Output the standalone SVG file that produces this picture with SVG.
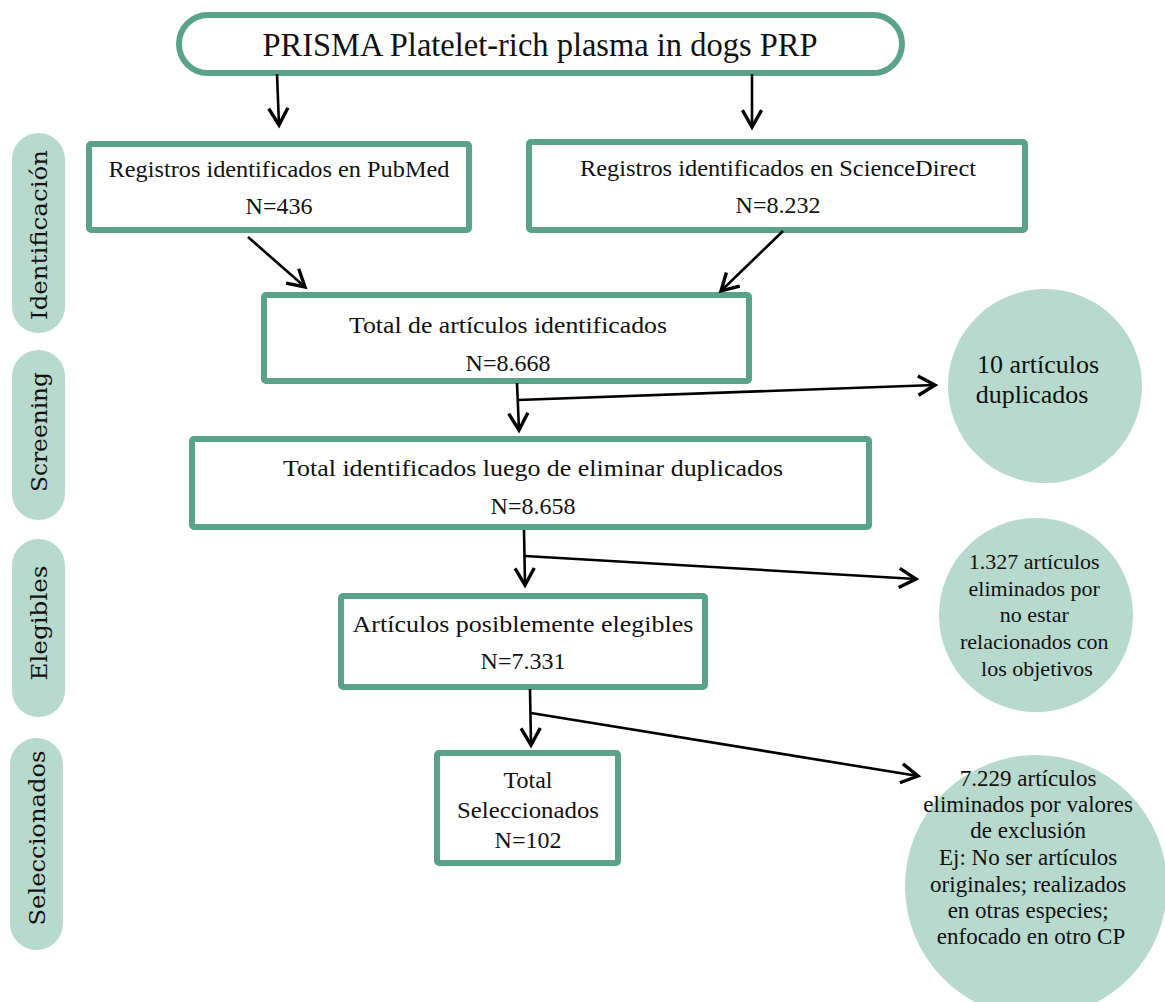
<svg xmlns="http://www.w3.org/2000/svg" width="1165" height="1002" viewBox="0 0 1165 1002">
  <style>
    .box { fill: #ffffff; stroke: #5aa28c; stroke-width: 6; }
    .pill { fill: #b8d9cd; }
    .bubble { fill: #b8d9cd; }
    .txt { font-family: "Liberation Serif", "Times New Roman", serif; fill: #111111; text-anchor: middle; }
    .num { font-size: 24px; }
    .side { font-family: "DejaVu Serif", "Liberation Serif", serif; fill: #111111; text-anchor: middle; font-size: 23px; }
    .link { stroke: #000000; stroke-width: 2.6; fill: none; }
  </style>
  <defs>
    <marker id="chev" markerUnits="userSpaceOnUse" markerWidth="24" markerHeight="24" viewBox="-16 -10 20 20" refX="0" refY="0" orient="auto">
      <path d="M -14 -8 L 0 0 L -14 8" fill="none" stroke="#000000" stroke-width="2.8" stroke-linejoin="miter"/>
    </marker>
  </defs>

  <rect width="1165" height="1002" fill="#ffffff"/>

  <!-- phase labels -->
  <g id="phase-identificacion">
    <rect class="pill" x="12" y="133" width="53" height="200" rx="26.5"/>
    <text class="side" transform="translate(47,235) rotate(-90)" textLength="170" lengthAdjust="spacingAndGlyphs">Identificación</text>
  </g>
  <g id="phase-screening">
    <rect class="pill" x="12" y="350" width="53" height="170" rx="26.5"/>
    <text class="side" transform="translate(47,432) rotate(-90)" textLength="120" lengthAdjust="spacingAndGlyphs">Screening</text>
  </g>
  <g id="phase-elegibles">
    <rect class="pill" x="12" y="539" width="53" height="178" rx="26.5"/>
    <text class="side" transform="translate(47,623) rotate(-90)" textLength="115" lengthAdjust="spacingAndGlyphs">Elegibles</text>
  </g>
  <g id="phase-seleccionados">
    <rect class="pill" x="10" y="738" width="53" height="212" rx="26.5"/>
    <text class="side" transform="translate(45,838) rotate(-90)" textLength="175" lengthAdjust="spacingAndGlyphs">Seleccionados</text>
  </g>

  <!-- title -->
  <g id="title">
    <rect class="box" x="179" y="15" width="723" height="58" rx="29" stroke-width="5"/>
    <text class="txt" x="540" y="56" font-size="33" textLength="555" lengthAdjust="spacingAndGlyphs">PRISMA Platelet-rich plasma in dogs PRP</text>
  </g>

  <!-- identification sources -->
  <g id="pubmed">
    <rect class="box" x="89" y="144" width="380" height="86" rx="2"/>
    <text class="txt" x="279" y="177" font-size="23" textLength="341" lengthAdjust="spacingAndGlyphs">Registros identificados en PubMed</text>
    <text class="txt num" x="279" y="214">N=436</text>
  </g>
  <g id="sciencedirect">
    <rect class="box" x="529" y="142" width="496" height="88" rx="2"/>
    <text class="txt" x="778" y="176" font-size="23" textLength="396" lengthAdjust="spacingAndGlyphs">Registros identificados en ScienceDirect</text>
    <text class="txt num" x="778" y="213">N=8.232</text>
  </g>

  <!-- totals -->
  <g id="total-identificados">
    <rect class="box" x="264" y="295" width="485" height="86" rx="2"/>
    <text class="txt" x="508" y="333" font-size="23" textLength="318" lengthAdjust="spacingAndGlyphs">Total de artículos identificados</text>
    <text class="txt num" x="508" y="371">N=8.668</text>
  </g>
  <g id="sin-duplicados">
    <rect class="box" x="192" y="439" width="677" height="88" rx="2"/>
    <text class="txt" x="533" y="476" font-size="23" textLength="500" lengthAdjust="spacingAndGlyphs">Total identificados luego de eliminar duplicados</text>
    <text class="txt num" x="533" y="514">N=8.658</text>
  </g>
  <g id="elegibles">
    <rect class="box" x="341" y="596" width="364" height="91" rx="2"/>
    <text class="txt" x="523" y="632" font-size="23" textLength="341" lengthAdjust="spacingAndGlyphs">Artículos posiblemente elegibles</text>
    <text class="txt num" x="523" y="669">N=7.331</text>
  </g>
  <g id="seleccionados">
    <rect class="box" x="437" y="753" width="181" height="110" rx="2" stroke-width="7"/>
    <text class="txt num" x="528" y="788">Total</text>
    <text class="txt num" x="528" y="818" textLength="142" lengthAdjust="spacingAndGlyphs">Seleccionados</text>
    <text class="txt num" x="528" y="848">N=102</text>
  </g>

  <!-- exclusions -->
  <g id="duplicados">
    <circle class="bubble" cx="1045" cy="386" r="97"/>
    <text class="txt" x="1038" y="373" font-size="26">10 artículos</text>
    <text class="txt" x="1032" y="403" font-size="26">duplicados</text>
  </g>
  <g id="no-relacionados">
    <circle class="bubble" cx="1036" cy="615" r="97"/>
    <text class="txt" font-size="22">
      <tspan x="1037" y="569">1.327 artículos</tspan>
      <tspan x="1037" y="596">eliminados por</tspan>
      <tspan x="1037" y="622">no estar</tspan>
      <tspan x="1037" y="649">relacionados con</tspan>
      <tspan x="1037" y="676">los objetivos</tspan>
    </text>
  </g>
  <g id="exclusion">
    <circle class="bubble" cx="1036" cy="886" r="131"/>
    <text class="txt" font-size="23">
      <tspan x="1031" y="786">7.229 artículos</tspan>
      <tspan x="1031" y="812">eliminados por valores</tspan>
      <tspan x="1031" y="838">de exclusión</tspan>
      <tspan x="1031" y="865">Ej: No ser artículos</tspan>
      <tspan x="1031" y="892">originales; realizados</tspan>
      <tspan x="1031" y="918">en otras especies;</tspan>
      <tspan x="1031" y="944">enfocado en otro CP</tspan>
    </text>
  </g>

  <!-- connectors -->
  <g id="connectors">
    <line class="link" x1="277" y1="74" x2="279" y2="125" marker-end="url(#chev)"/>
    <line class="link" x1="752" y1="74" x2="752" y2="127" marker-end="url(#chev)"/>
    <line class="link" x1="248" y1="237" x2="305" y2="287" marker-end="url(#chev)"/>
    <line class="link" x1="783" y1="231" x2="721" y2="291" marker-end="url(#chev)"/>
    <line class="link" x1="517" y1="383" x2="519" y2="430" marker-end="url(#chev)"/>
    <line class="link" x1="518" y1="400" x2="935" y2="385" marker-end="url(#chev)"/>
    <line class="link" x1="524" y1="530" x2="525" y2="585" marker-end="url(#chev)"/>
    <line class="link" x1="525" y1="556" x2="916" y2="579" marker-end="url(#chev)"/>
    <line class="link" x1="530" y1="689" x2="531" y2="745" marker-end="url(#chev)"/>
    <line class="link" x1="531" y1="713" x2="918" y2="776" marker-end="url(#chev)"/>
  </g>
</svg>
